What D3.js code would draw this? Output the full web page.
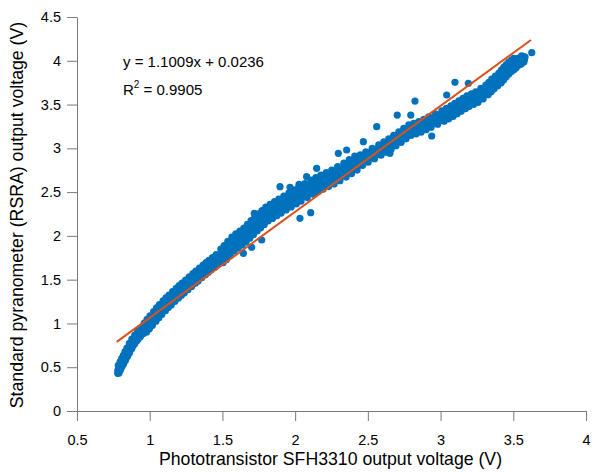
<!DOCTYPE html>
<html>
<head>
  <meta charset="UTF-8">
  <title>Phototransistor vs pyranometer</title>
  <script src="https://d3js.org/d3.v7.min.js"></script>
  <style>
    body {
      margin: 0;
      padding: 0;
      background-color: #ffffff;
    }
    svg text {
      font-family: 'Liberation Sans', Arial, Helvetica, sans-serif;
      fill: #000;
    }
    .axis path, .axis line {
      stroke: #7a7a7a;
    }
  </style>
</head>
<body>
  <svg id="chart"></svg>
  <script>
    // tick labels
    const xTicks = [0.5, 1, 1.5, 2, 2.5, 3, 3.5, 4];
    const yTicks = [0, 0.5, 1, 1.5, 2, 2.5, 3, 3.5, 4, 4.5];

    const bandMid = [[0.780,0.430],[0.790,0.470],[0.800,0.505],[0.812,0.545],[0.825,0.590],[0.838,0.632],[0.851,0.674],[0.868,0.727],[0.885,0.777],[0.905,0.822],[0.925,0.865],[0.948,0.905],[0.970,0.950],[0.990,0.992],[1.010,1.032],[1.035,1.080],[1.055,1.122],[1.075,1.160],[1.100,1.203],[1.120,1.237],[1.140,1.268],[1.165,1.308],[1.190,1.347],[1.210,1.377],[1.230,1.405],[1.255,1.440],[1.280,1.478],[1.305,1.513],[1.325,1.542],[1.350,1.577],[1.375,1.612],[1.395,1.640],[1.415,1.667],[1.440,1.698],[1.465,1.730],[1.497,1.770],[1.520,1.810],[1.545,1.857],[1.573,1.907],[1.600,1.942],[1.628,1.976],[1.655,2.010],[1.680,2.052],[1.705,2.094],[1.731,2.136],[1.755,2.172],[1.780,2.210],[1.806,2.250],[1.836,2.280],[1.866,2.311],[1.896,2.341],[1.930,2.375],[1.965,2.410],[2.000,2.445],[2.033,2.478],[2.075,2.518],[2.116,2.558],[2.150,2.586],[2.185,2.615],[2.222,2.643],[2.260,2.672],[2.300,2.710],[2.343,2.752],[2.380,2.792],[2.418,2.832],[2.456,2.866],[2.494,2.901],[2.538,2.941],[2.583,2.981],[2.618,3.015],[2.652,3.049],[2.686,3.089],[2.721,3.129],[2.755,3.169],[2.790,3.209],[2.824,3.226],[2.858,3.244],[2.893,3.272],[2.927,3.301],[2.972,3.335],[3.017,3.369],[3.048,3.397],[3.079,3.426],[3.106,3.455],[3.134,3.483],[3.162,3.512],[3.189,3.540],[3.220,3.563],[3.250,3.586],[3.285,3.626],[3.319,3.666],[3.340,3.700],[3.360,3.735],[3.385,3.769],[3.409,3.803],[3.426,3.838],[3.443,3.872],[3.460,3.900],[3.477,3.929],[3.495,3.952],[3.512,3.974],[3.530,3.986],[3.546,3.997],[3.565,4.020],[3.581,4.043]];

    const bandLow = [[0.798,0.472],[0.808,0.505],[0.820,0.540],[0.833,0.580],[0.846,0.622],[0.859,0.660],[0.876,0.712],[0.893,0.760],[0.913,0.805],[0.933,0.846],[0.956,0.885],[0.978,0.900],[0.998,0.938],[1.018,0.977],[1.043,1.025],[1.063,1.064],[1.083,1.103],[1.108,1.146],[1.128,1.183],[1.148,1.212],[1.173,1.253],[1.198,1.290],[1.218,1.322],[1.238,1.350],[1.263,1.385],[1.288,1.423],[1.313,1.458],[1.333,1.486],[1.358,1.523],[1.383,1.556],[1.403,1.585],[1.423,1.612],[1.448,1.643],[1.473,1.675],[1.505,1.695],[1.528,1.730],[1.553,1.777],[1.581,1.827],[1.608,1.862],[1.636,1.896],[1.663,1.930],[1.688,1.972],[1.713,2.014],[1.739,2.056],[1.763,2.092],[1.788,2.130],[1.814,2.170],[1.844,2.200],[1.874,2.231],[1.904,2.261],[1.938,2.295],[1.973,2.330],[2.008,2.365],[2.041,2.398],[2.083,2.438],[2.124,2.478],[2.158,2.506],[2.193,2.535],[2.230,2.563],[2.268,2.592],[2.308,2.630],[2.351,2.672],[2.388,2.712],[2.426,2.752],[2.464,2.806],[2.502,2.841],[2.546,2.881],[2.591,2.921],[2.626,2.955],[2.660,2.989],[2.694,3.029],[2.729,3.069],[2.763,3.109],[2.798,3.149],[2.832,3.166],[2.866,3.184],[2.901,3.212],[2.935,3.241],[2.980,3.275],[3.025,3.309],[3.056,3.337],[3.087,3.366],[3.114,3.395],[3.142,3.423],[3.170,3.452],[3.197,3.480],[3.228,3.503],[3.258,3.526],[3.293,3.566],[3.327,3.611],[3.348,3.645],[3.368,3.680],[3.393,3.714],[3.417,3.748],[3.434,3.783],[3.451,3.817],[3.468,3.845],[3.485,3.874],[3.503,3.897],[3.520,3.919],[3.538,3.951],[3.554,3.962],[3.573,3.985]];

    const bandHigh = [[0.784,0.520],[0.796,0.560],[0.808,0.600],[0.819,0.635],[0.830,0.677],[0.843,0.719],[0.860,0.772],[0.877,0.822],[0.897,0.867],[0.917,0.910],[0.940,0.950],[0.962,1.005],[0.982,1.047],[1.002,1.087],[1.027,1.135],[1.047,1.177],[1.067,1.215],[1.092,1.258],[1.112,1.292],[1.132,1.323],[1.157,1.363],[1.182,1.402],[1.202,1.432],[1.222,1.460],[1.247,1.495],[1.272,1.533],[1.297,1.568],[1.317,1.597],[1.342,1.632],[1.367,1.667],[1.387,1.695],[1.407,1.722],[1.432,1.753],[1.457,1.785],[1.489,1.850],[1.512,1.890],[1.537,1.937],[1.565,1.987],[1.592,2.022],[1.620,2.056],[1.647,2.090],[1.672,2.132],[1.697,2.174],[1.723,2.216],[1.747,2.252],[1.772,2.290],[1.798,2.330],[1.828,2.360],[1.858,2.391],[1.888,2.421],[1.922,2.455],[1.957,2.490],[1.992,2.525],[2.025,2.558],[2.067,2.598],[2.108,2.638],[2.142,2.666],[2.177,2.695],[2.214,2.723],[2.252,2.752],[2.292,2.790],[2.335,2.832],[2.372,2.872],[2.410,2.912],[2.448,2.926],[2.486,2.961],[2.530,3.001],[2.575,3.041],[2.610,3.075],[2.644,3.109],[2.678,3.149],[2.713,3.189],[2.747,3.229],[2.782,3.269],[2.816,3.286],[2.850,3.304],[2.885,3.332],[2.919,3.361],[2.964,3.395],[3.009,3.429],[3.040,3.457],[3.071,3.486],[3.098,3.515],[3.126,3.543],[3.154,3.572],[3.181,3.600],[3.212,3.623],[3.242,3.646],[3.277,3.686],[3.311,3.721],[3.332,3.755],[3.352,3.790],[3.377,3.824],[3.401,3.858],[3.418,3.893],[3.435,3.927],[3.452,3.955],[3.469,3.984],[3.487,4.007],[3.504,4.029],[3.522,4.021],[3.538,4.032],[3.557,4.055]];

    const bandQ1 = [[0.789,0.435],[0.799,0.473],[0.810,0.510],[0.822,0.553],[0.835,0.590],[0.848,0.631],[0.863,0.678],[0.880,0.730],[0.899,0.778],[0.919,0.821],[0.940,0.863],[0.963,0.900],[0.984,0.943],[1.004,0.984],[1.026,1.028],[1.049,1.073],[1.069,1.113],[1.092,1.154],[1.114,1.192],[1.134,1.224],[1.156,1.260],[1.182,1.299],[1.204,1.334],[1.224,1.363],[1.246,1.394],[1.272,1.431],[1.296,1.467],[1.319,1.499],[1.342,1.532],[1.366,1.566],[1.389,1.598],[1.409,1.625],[1.432,1.654],[1.456,1.686],[1.485,1.722],[1.512,1.750],[1.536,1.793],[1.563,1.842],[1.590,1.885],[1.618,1.919],[1.645,1.953],[1.672,1.991],[1.696,2.033],[1.722,2.075],[1.747,2.114],[1.772,2.151],[1.797,2.190],[1.825,2.225],[1.855,2.256],[1.885,2.286],[1.917,2.318],[1.952,2.352],[1.986,2.388],[2.020,2.422],[2.058,2.458],[2.100,2.498],[2.137,2.532],[2.172,2.560],[2.208,2.589],[2.245,2.618],[2.284,2.651],[2.326,2.691],[2.366,2.732],[2.403,2.772],[2.441,2.809],[2.479,2.854],[2.520,2.891],[2.564,2.931],[2.604,2.968],[2.639,3.002],[2.673,3.039],[2.708,3.079],[2.742,3.119],[2.776,3.159],[2.811,3.188],[2.845,3.205],[2.880,3.228],[2.914,3.257],[2.954,3.288],[2.998,3.322],[3.036,3.353],[3.068,3.382],[3.096,3.410],[3.124,3.439],[3.152,3.467],[3.180,3.496],[3.208,3.522],[3.239,3.545],[3.272,3.576],[3.306,3.618],[3.334,3.655],[3.354,3.690],[3.376,3.724],[3.401,3.758],[3.422,3.792],[3.438,3.827],[3.456,3.858],[3.472,3.887],[3.490,3.912],[3.507,3.935],[3.525,3.962],[3.542,3.974],[3.560,3.990],[3.577,4.014]];

    const bandQ3 = [[0.781,0.465],[0.791,0.503],[0.802,0.540],[0.814,0.583],[0.827,0.633],[0.840,0.675],[0.855,0.722],[0.872,0.774],[0.891,0.822],[0.911,0.865],[0.932,0.907],[0.955,0.956],[0.976,0.999],[0.996,1.040],[1.018,1.084],[1.041,1.129],[1.061,1.169],[1.084,1.210],[1.106,1.248],[1.126,1.280],[1.148,1.316],[1.174,1.355],[1.196,1.390],[1.216,1.419],[1.238,1.450],[1.264,1.487],[1.288,1.523],[1.311,1.555],[1.334,1.588],[1.358,1.622],[1.381,1.654],[1.401,1.681],[1.424,1.710],[1.448,1.742],[1.477,1.778],[1.504,1.830],[1.528,1.873],[1.555,1.922],[1.582,1.965],[1.610,1.999],[1.637,2.033],[1.664,2.071],[1.688,2.113],[1.714,2.155],[1.739,2.194],[1.764,2.231],[1.789,2.270],[1.817,2.305],[1.847,2.336],[1.877,2.366],[1.909,2.398],[1.944,2.432],[1.978,2.468],[2.012,2.502],[2.050,2.538],[2.092,2.578],[2.129,2.612],[2.164,2.640],[2.200,2.669],[2.237,2.698],[2.276,2.731],[2.318,2.771],[2.358,2.812],[2.395,2.852],[2.433,2.889],[2.471,2.914],[2.512,2.951],[2.556,2.991],[2.596,3.028],[2.631,3.062],[2.665,3.099],[2.700,3.139],[2.734,3.179],[2.768,3.219],[2.803,3.248],[2.837,3.265],[2.872,3.288],[2.906,3.317],[2.946,3.348],[2.990,3.382],[3.028,3.413],[3.060,3.442],[3.088,3.470],[3.116,3.499],[3.144,3.527],[3.172,3.556],[3.200,3.582],[3.231,3.605],[3.264,3.636],[3.298,3.674],[3.326,3.711],[3.346,3.746],[3.368,3.780],[3.393,3.814],[3.414,3.848],[3.430,3.883],[3.448,3.914],[3.464,3.943],[3.482,3.968],[3.499,3.991],[3.517,3.998],[3.534,4.010],[3.552,4.026],[3.569,4.050]];

    const strays = [[3.099,3.754],[3.042,3.609],[2.824,3.540],[2.702,3.380],[2.795,3.380],[2.939,3.141],[3.627,4.092],[3.191,3.743],[1.896,2.562],[2.027,2.589],[2.148,2.772],[2.297,2.943],[2.033,2.201],[2.107,2.265],[1.701,1.870],[1.644,1.801],[1.770,1.953],[1.965,2.555],[2.561,3.247],[2.469,3.076],[2.354,2.981],[2.652,2.943],[2.079,2.676],[1.719,2.258]];

    // drawn fit line, ends
    const fitX = [0.773, 3.622];
    const fitY = [0.79, 4.237];

    const W = 597, H = 474;
    const padL = 77, padR = 586, padT = 17, padB = 411;

    const x = d3.scaleLinear().domain([0.5, 4]).range([padL, padR]);
    const y = d3.scaleLinear().domain([0, 4.5]).range([padB, padT]);

    const svg = d3.select("#chart")
      .attr("width", W)
      .attr("height", H);

    const allPts = bandLow.concat(bandHigh, bandQ1, bandQ3, bandMid, strays);

    svg.append("g")
      .selectAll("circle")
      .data(allPts)
      .enter().append("circle")
      .attr("cx", function(d) { return x(d[0]); })
      .attr("cy", function(d) { return y(d[1]); })
      .attr("r", 3.6)
      .attr("fill", "#0072bd");

    svg.append("line")
      .attr("x1", x(fitX[0]))
      .attr("y1", y(fitY[0]))
      .attr("x2", x(fitX[1]))
      .attr("y2", y(fitY[1]))
      .attr("stroke", "#d95319")
      .attr("stroke-width", 2);

    const gx = svg.append("g")
      .attr("class", "axis")
      .attr("transform", `translate(0,${padB})`)
      .call(d3.axisBottom(x).tickValues(xTicks).tickSize(10).tickSizeOuter(0).tickPadding(14)
        .tickFormat(function(d) { return String(d); }));
    gx.selectAll("text").attr("font-size", 14.5).attr("fill", "#000");

    const gy = svg.append("g")
      .attr("class", "axis")
      .attr("transform", `translate(${padL},0)`)
      .call(d3.axisLeft(y).tickValues(yTicks).tickSize(10).tickSizeOuter(0).tickPadding(6)
        .tickFormat(function(d) { return String(d); }));
    gy.selectAll("text").attr("font-size", 14.5).attr("fill", "#000");

    svg.append("text")
      .attr("x", (padL + padR) / 2 - 1)
      .attr("y", 465)
      .attr("text-anchor", "middle")
      .attr("font-size", 17.7)
      .text("Phototransistor SFH3310 output voltage (V)");

    svg.append("text")
      .attr("transform", "translate(23,215) rotate(-90)")
      .attr("text-anchor", "middle")
      .attr("font-size", 17.7)
      .text("Standard pyranometer (RSRA) output voltage (V)");

    svg.append("text")
      .attr("x", 123)
      .attr("y", 67)
      .attr("font-size", 15)
      .text("y = 1.1009x + 0.0236");

    const r2 = svg.append("text")
      .attr("x", 123)
      .attr("y", 95)
      .attr("font-size", 15);
    r2.append("tspan").text("R");
    r2.append("tspan").attr("dy", -7).attr("font-size", 10).text("2");
    r2.append("tspan").attr("dy", 7).text(" = 0.9905");
  </script>
</body>
</html>
